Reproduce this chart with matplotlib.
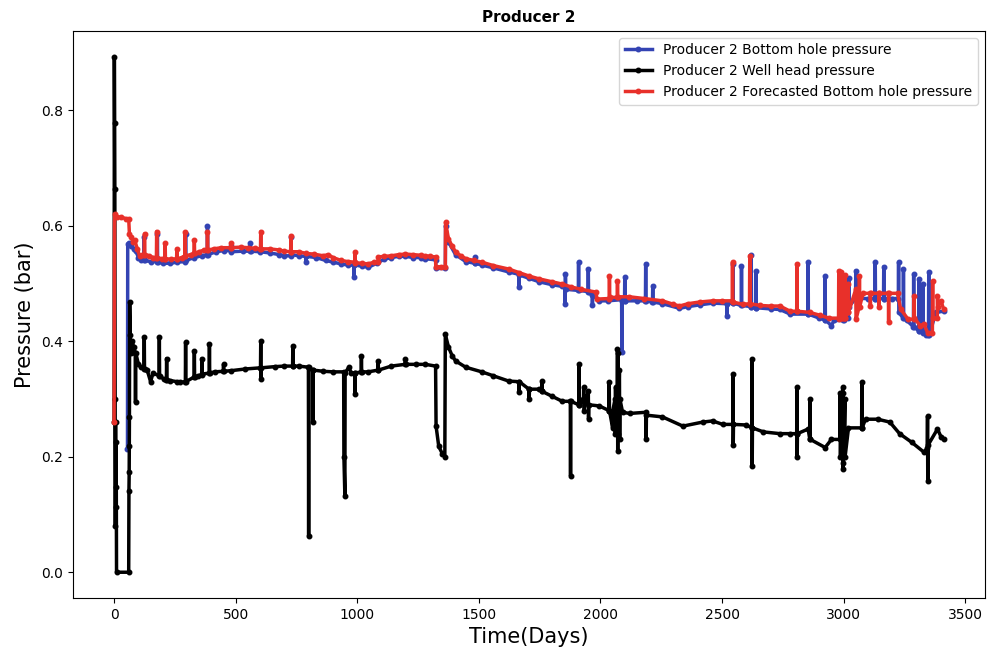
import matplotlib.pyplot as plt

# values: (day, pressure in bar)
bhp_points = [
    (55, 0.213), (56, 0.568), (62, 0.57), (70, 0.565), (80, 0.56), (90, 0.556), (100, 0.545),
    (110, 0.54), (123, 0.54), (124, 0.58), (125, 0.54), (150, 0.538), (177, 0.538), (178, 0.585),
    (179, 0.538), (200, 0.535), (230, 0.535), (260, 0.537), (293, 0.538), (294, 0.585), (295, 0.54),
    (330, 0.545), (360, 0.548), (383, 0.55), (384, 0.6), (385, 0.55), (420, 0.555), (450, 0.557),
    (479, 0.557), (480, 0.565), (481, 0.555), (530, 0.556), (559, 0.556), (560, 0.57), (561, 0.556),
    (600, 0.555), (640, 0.553), (680, 0.55), (700, 0.548), (726, 0.548), (727, 0.58), (728, 0.55),
    (760, 0.548), (789, 0.547), (790, 0.537), (791, 0.547), (830, 0.545), (870, 0.54), (900, 0.537),
    (933, 0.534), (960, 0.532), (986, 0.532), (987, 0.511), (988, 0.532), (1020, 0.53),
    (1045, 0.528), (1080, 0.535), (1110, 0.542), (1140, 0.545), (1170, 0.547), (1198, 0.547),
    (1230, 0.545), (1260, 0.545), (1280, 0.543), (1322, 0.541), (1323, 0.526), (1362, 0.526),
    (1363, 0.6), (1375, 0.572), (1404, 0.55), (1446, 0.538), (1484, 0.535), (1485, 0.546),
    (1486, 0.535), (1512, 0.532), (1560, 0.527), (1623, 0.52), (1664, 0.516), (1665, 0.494),
    (1666, 0.515), (1706, 0.509), (1748, 0.503), (1800, 0.498), (1843, 0.495), (1854, 0.494),
    (1855, 0.465), (1856, 0.516), (1857, 0.49), (1909, 0.488), (1910, 0.537), (1911, 0.488),
    (1949, 0.486), (1950, 0.525), (1951, 0.485), (1966, 0.48), (1967, 0.462), (1968, 0.48),
    (1995, 0.47), (2030, 0.47), (2087, 0.472), (2088, 0.381), (2089, 0.47), (2099, 0.47),
    (2100, 0.511), (2101, 0.47), (2150, 0.47), (2185, 0.47), (2186, 0.534), (2187, 0.47),
    (2214, 0.468), (2215, 0.496), (2216, 0.468), (2255, 0.465), (2325, 0.457), (2360, 0.46),
    (2408, 0.463), (2461, 0.466), (2519, 0.465), (2520, 0.444), (2521, 0.466), (2544, 0.466),
    (2545, 0.533), (2546, 0.466), (2579, 0.462), (2580, 0.53), (2581, 0.462), (2619, 0.46),
    (2620, 0.55), (2621, 0.46), (2639, 0.458), (2640, 0.522), (2641, 0.458), (2700, 0.456),
    (2738, 0.455), (2780, 0.447), (2853, 0.447), (2854, 0.537), (2855, 0.447), (2900, 0.44),
    (2923, 0.437), (2924, 0.513), (2925, 0.437), (2950, 0.427), (2960, 0.436), (2999, 0.436),
    (3000, 0.51), (3001, 0.436), (3020, 0.44), (3021, 0.51), (3022, 0.46), (3049, 0.474),
    (3050, 0.522), (3051, 0.474), (3100, 0.474), (3129, 0.474), (3130, 0.537), (3131, 0.474),
    (3164, 0.474), (3165, 0.529), (3166, 0.474), (3200, 0.474), (3225, 0.474), (3226, 0.537),
    (3227, 0.45), (3245, 0.44), (3246, 0.525), (3247, 0.44), (3260, 0.436), (3287, 0.425),
    (3288, 0.516), (3289, 0.425), (3309, 0.418), (3310, 0.508), (3311, 0.418), (3325, 0.42),
    (3326, 0.5), (3327, 0.415), (3340, 0.41), (3349, 0.41), (3350, 0.52), (3351, 0.41),
    (3380, 0.45), (3411, 0.452),
]

whp_points = [
    (0, 0.26), (1, 0.893), (2, 0.778), (3, 0.664), (4, 0.30), (5, 0.08), (6, 0.26), (7, 0.113),
    (8, 0.225), (9, 0.147), (10, 0.0), (60, 0.0), (61, 0.14), (62, 0.173), (62.5, 0.218),
    (63, 0.268), (64, 0.468), (66, 0.41), (70, 0.38), (75, 0.4), (80, 0.39), (87, 0.38),
    (88, 0.294), (89, 0.38), (100, 0.36), (110, 0.355), (123, 0.352), (124, 0.407), (125, 0.352),
    (136, 0.35), (150, 0.33), (160, 0.345), (185, 0.34), (186, 0.407), (187, 0.34), (206, 0.334),
    (215, 0.333), (216, 0.37), (217, 0.333), (230, 0.332), (260, 0.33), (273, 0.329), (293, 0.33),
    (294, 0.398), (295, 0.33), (329, 0.338), (330, 0.383), (331, 0.338), (343, 0.34), (360, 0.342),
    (361, 0.37), (362, 0.343), (391, 0.345), (392, 0.395), (393, 0.345), (413, 0.347), (449, 0.348),
    (450, 0.36), (451, 0.348), (480, 0.349), (540, 0.352), (602, 0.354), (603, 0.4), (604, 0.334),
    (605, 0.354), (660, 0.356), (700, 0.357), (734, 0.357), (735, 0.392), (736, 0.357),
    (760, 0.357), (799, 0.355), (800, 0.062), (801, 0.355), (817, 0.35), (818, 0.26), (819, 0.35),
    (860, 0.348), (900, 0.347), (944, 0.347), (945, 0.2), (949, 0.132), (950, 0.345), (965, 0.355),
    (975, 0.345), (990, 0.345), (991, 0.308), (992, 0.345), (1016, 0.347), (1017, 0.374),
    (1018, 0.347), (1045, 0.347), (1085, 0.35), (1086, 0.366), (1087, 0.35), (1140, 0.357),
    (1197, 0.36), (1198, 0.369), (1199, 0.36), (1240, 0.36), (1280, 0.36), (1322, 0.357),
    (1324, 0.253), (1335, 0.218), (1350, 0.205), (1360, 0.2), (1362, 0.412), (1375, 0.39),
    (1390, 0.375), (1404, 0.366), (1446, 0.355), (1512, 0.347), (1560, 0.34), (1623, 0.331),
    (1664, 0.33), (1665, 0.312), (1666, 0.33), (1706, 0.317), (1707, 0.3), (1708, 0.317),
    (1748, 0.317), (1759, 0.313), (1760, 0.331), (1761, 0.313), (1800, 0.305), (1843, 0.296),
    (1876, 0.296), (1877, 0.167), (1878, 0.296), (1911, 0.29), (1912, 0.36), (1913, 0.29),
    (1930, 0.3), (1931, 0.32), (1932, 0.28), (1950, 0.314), (1951, 0.265), (1952, 0.29),
    (1995, 0.288), (2035, 0.28), (2036, 0.329), (2037, 0.28), (2050, 0.25), (2051, 0.28),
    (2060, 0.3), (2061, 0.24), (2062, 0.32), (2063, 0.26), (2069, 0.28), (2070, 0.386),
    (2071, 0.21), (2072, 0.38), (2073, 0.24), (2078, 0.35), (2079, 0.23), (2080, 0.3),
    (2091, 0.277), (2120, 0.275), (2187, 0.277), (2188, 0.23), (2189, 0.272), (2255, 0.269),
    (2339, 0.253), (2420, 0.26), (2461, 0.262), (2503, 0.256), (2544, 0.256), (2545, 0.343),
    (2546, 0.22), (2547, 0.256), (2600, 0.255), (2622, 0.25), (2623, 0.369), (2624, 0.184),
    (2625, 0.25), (2670, 0.243), (2738, 0.24), (2780, 0.24), (2807, 0.24), (2808, 0.32),
    (2809, 0.2), (2810, 0.24), (2854, 0.248), (2861, 0.23), (2862, 0.3), (2863, 0.23),
    (2924, 0.216), (2950, 0.23), (2985, 0.23), (2986, 0.31), (2987, 0.2), (2988, 0.25),
    (2995, 0.23), (2996, 0.32), (2997, 0.178), (2998, 0.31), (2999, 0.19), (3005, 0.3),
    (3006, 0.2), (3020, 0.25), (3074, 0.25), (3075, 0.329), (3076, 0.25), (3090, 0.265),
    (3140, 0.265), (3190, 0.26), (3230, 0.24), (3280, 0.225), (3330, 0.208), (3344, 0.215),
    (3345, 0.27), (3346, 0.158), (3347, 0.22), (3386, 0.248), (3400, 0.235), (3411, 0.23),
]

forecast_points = [
    (0, 0.26), (2, 0.62), (10, 0.615), (30, 0.615), (50, 0.612), (60, 0.612), (63, 0.585),
    (70, 0.58), (78, 0.572), (85, 0.575), (95, 0.56), (105, 0.548), (115, 0.55), (124, 0.55),
    (125, 0.586), (126, 0.55), (145, 0.548), (160, 0.545), (174, 0.545), (175, 0.59), (176, 0.545),
    (195, 0.543), (209, 0.543), (210, 0.57), (211, 0.543), (235, 0.542), (257, 0.543), (258, 0.56),
    (259, 0.543), (280, 0.545), (291, 0.548), (292, 0.589), (293, 0.548), (315, 0.55), (329, 0.552),
    (330, 0.575), (331, 0.552), (350, 0.555), (370, 0.558), (383, 0.558), (384, 0.59), (385, 0.558),
    (410, 0.56), (440, 0.562), (479, 0.562), (480, 0.57), (481, 0.562), (520, 0.563), (550, 0.562),
    (580, 0.561), (602, 0.56), (603, 0.59), (604, 0.56), (640, 0.56), (680, 0.558), (700, 0.556),
    (726, 0.555), (727, 0.583), (728, 0.555), (760, 0.555), (790, 0.552), (820, 0.551),
    (860, 0.548), (880, 0.55), (900, 0.545), (933, 0.54), (960, 0.538), (990, 0.537), (991, 0.555),
    (992, 0.536), (1020, 0.535), (1045, 0.534), (1070, 0.537), (1085, 0.537), (1086, 0.546),
    (1110, 0.547), (1140, 0.548), (1170, 0.55), (1198, 0.551), (1230, 0.55), (1260, 0.549),
    (1280, 0.548), (1300, 0.547), (1322, 0.546), (1323, 0.529), (1345, 0.529), (1362, 0.529),
    (1363, 0.606), (1375, 0.577), (1390, 0.565), (1404, 0.555), (1425, 0.548), (1446, 0.543),
    (1480, 0.54), (1512, 0.537), (1560, 0.531), (1623, 0.525), (1665, 0.519), (1706, 0.513),
    (1748, 0.508), (1800, 0.503), (1843, 0.499), (1880, 0.494), (1920, 0.49), (1983, 0.485),
    (1984, 0.473), (2036, 0.474), (2037, 0.513), (2038, 0.476), (2069, 0.476), (2070, 0.504),
    (2071, 0.477), (2119, 0.477), (2180, 0.474), (2255, 0.47), (2300, 0.464), (2325, 0.461),
    (2360, 0.465), (2408, 0.468), (2461, 0.47), (2500, 0.47), (2542, 0.47), (2543, 0.537),
    (2544, 0.468), (2585, 0.464), (2613, 0.465), (2614, 0.548), (2615, 0.465), (2656, 0.462),
    (2700, 0.461), (2738, 0.461), (2780, 0.452), (2807, 0.452), (2808, 0.534), (2809, 0.452),
    (2860, 0.45), (2903, 0.445), (2940, 0.44), (2979, 0.44), (2980, 0.522), (2981, 0.438),
    (2985, 0.44), (2986, 0.51), (2987, 0.44), (2990, 0.44), (2991, 0.52), (2992, 0.44),
    (2998, 0.44), (2999, 0.505), (3000, 0.44), (3004, 0.44), (3005, 0.515), (3006, 0.44),
    (3018, 0.45), (3019, 0.5), (3020, 0.45), (3050, 0.49), (3051, 0.438), (3064, 0.46),
    (3065, 0.513), (3066, 0.46), (3080, 0.483), (3109, 0.483), (3110, 0.461), (3111, 0.483),
    (3144, 0.483), (3145, 0.46), (3146, 0.483), (3184, 0.483), (3185, 0.433), (3186, 0.483),
    (3222, 0.483), (3234, 0.456), (3265, 0.438), (3289, 0.438), (3290, 0.478), (3291, 0.44),
    (3315, 0.427), (3330, 0.43), (3345, 0.415), (3365, 0.415), (3366, 0.504), (3367, 0.44),
    (3385, 0.44), (3386, 0.478), (3387, 0.46), (3400, 0.47), (3411, 0.456),
]

bhp_days, bhp_vals = zip(*bhp_points)
whp_days, whp_vals = zip(*whp_points)
fc_days, fc_vals = zip(*forecast_points)

fig = plt.figure(figsize=(9.95, 6.55), dpi=100)
ax = fig.add_axes([0.073, 0.087, 0.917, 0.866])

ax.plot(bhp_days, bhp_vals, color="#3343b3", marker=".", markersize=6.5, linewidth=2.5,
        label="Producer 2 Bottom hole pressure")
ax.plot(whp_days, whp_vals, color="black", marker=".", markersize=6.5, linewidth=2.5,
        label="Producer 2 Well head pressure")
ax.plot(fc_days, fc_vals, color="#e8302a", marker=".", markersize=6.5, linewidth=2.5,
        label="Producer 2 Forecasted Bottom hole pressure")

ax.set_title("Producer 2", fontsize=11, fontweight="bold")
ax.set_xlabel("Time(Days)", fontsize=15)
ax.set_ylabel("Pressure (bar)", fontsize=15)
ax.tick_params(labelsize=10)
ax.legend(loc="upper right", fontsize=10)

fig.savefig("out.png", dpi=100)
